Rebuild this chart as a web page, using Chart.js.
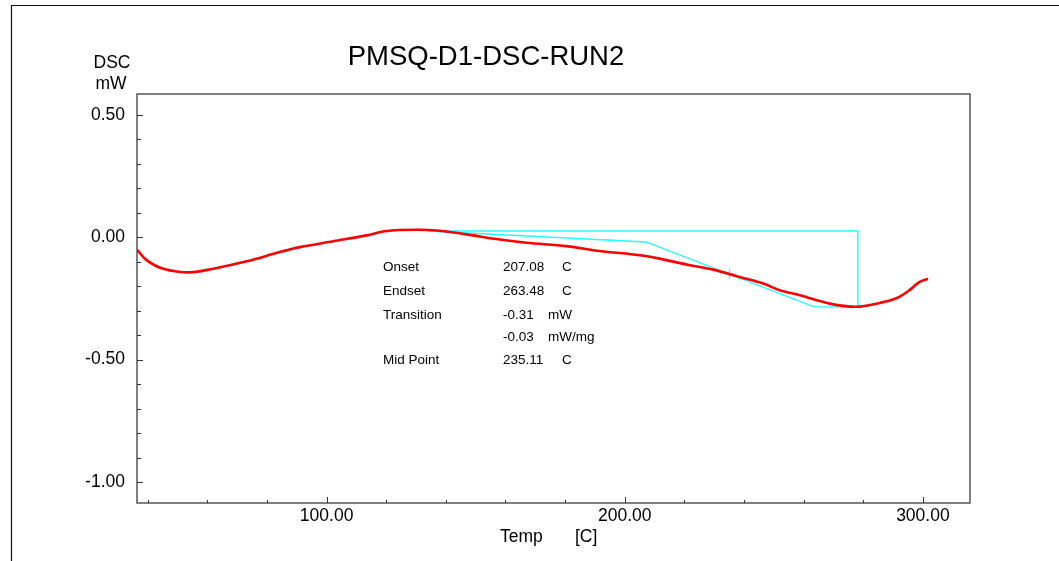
<!DOCTYPE HTML>
<html>
<head>
  <meta charset="UTF-8">
  <script src="https://cdn.jsdelivr.net/npm/chart.js"></script>
  <style>
    html, body {
      margin: 0;
      padding: 0;
      background: #fff;
    }
    #dscChart {
      display: block;
    }
  </style>
</head>
<body>
  <canvas id="dscChart" width="1059" height="561"></canvas>

<script>
  // DSC curve (Temp in C, heat flow in mW)
  const tempC = [36.4, 39.7, 45.2, 54.2, 62.0, 73.2, 84.3, 91.0, 102.2, 113.4, 120.1, 130.2, 138.0,
    146.9, 158.1, 167.0, 180.5, 191.6, 205.0, 211.7, 221.8, 229.6, 238.5, 246.4, 252.0, 258.7,
    268.7, 277.7, 285.5, 291.1, 295.5, 298.9, 301.7];
  const dscMw = [-0.050, -0.094, -0.128, -0.143, -0.128, -0.098, -0.060, -0.040, -0.016, 0.008, 0.026, 0.031, 0.027,
    0.012, -0.009, -0.022, -0.036, -0.056, -0.073, -0.087, -0.114, -0.132, -0.162, -0.189, -0.216, -0.237,
    -0.271, -0.284, -0.268, -0.249, -0.216, -0.182, -0.169];

  // analysis construction lines (cyan)
  const baseT = [134.0, 278.2, 278.2];
  const baseMw = [0.026, 0.026, -0.284];
  const tangentT = [134.0, 207.08, 263.48, 278.2];
  const tangentMw = [0.026, -0.019, -0.284, -0.284];
  const midT = [235.11];
  const midMw = [-0.148];

  // analysis results
  const resultLabels = ['Onset', 'Endset', 'Transition', '', 'Mid Point'];
  const resultValues = ['207.08', '263.48', '-0.31', '-0.03', '235.11'];
  const resultUnits = ['C', 'C', 'mW', 'mW/mg', 'C'];

  const chartTitle = 'PMSQ-D1-DSC-RUN2';
  const yTitle = ['DSC', 'mW'];
  const xTitle = ['Temp', '[C]'];

  const FONT = 'Arial, "Liberation Sans", sans-serif';
  const toXY = (xs, ys) => xs.map((x, i) => ({ x: x, y: ys[i] }));

  // frame, inward ticks and free text
  const decorations = {
    id: 'decorations',
    afterDraw(chart) {
      const ctx = chart.ctx;
      const a = chart.chartArea;
      const xs = chart.scales.x;
      const ys = chart.scales.y;
      ctx.save();

      // outer frame of the page
      ctx.strokeStyle = '#111';
      ctx.lineWidth = 1.2;
      ctx.beginPath();
      ctx.moveTo(11.5, 561);
      ctx.lineTo(11.5, 5.5);
      ctx.lineTo(1059, 5.5);
      ctx.stroke();

      // plot box
      ctx.strokeStyle = '#555';
      ctx.lineWidth = 1.5;
      ctx.strokeRect(a.left, a.top, a.right - a.left, a.bottom - a.top);

      // ticks pointing into the plot
      ctx.lineWidth = 1;
      ctx.strokeStyle = '#333';
      ctx.beginPath();
      xs.ticks.forEach(t => {
        const px = Math.round(xs.getPixelForValue(t.value)) + 0.5;
        const major = Math.round(t.value) % 100 === 0;
        ctx.moveTo(px, a.bottom);
        ctx.lineTo(px, a.bottom - (major ? 6 : 3));
      });
      ys.ticks.forEach(t => {
        const py = Math.round(ys.getPixelForValue(t.value)) + 0.5;
        const major = Math.round(t.value * 10) % 5 === 0;
        ctx.moveTo(a.left, py);
        ctx.lineTo(a.left + (major ? 6 : 4), py);
      });
      ctx.stroke();

      ctx.fillStyle = '#000';
      ctx.textBaseline = 'middle';

      // title
      ctx.font = '27.5px ' + FONT;
      ctx.textAlign = 'center';
      ctx.fillText(chartTitle, 486, 57);

      // axis titles
      ctx.font = '17.5px ' + FONT;
      ctx.fillText(yTitle[0], 112, 63);
      ctx.fillText(yTitle[1], 111, 84);
      ctx.textAlign = 'left';
      ctx.fillText(xTitle[0], 500, 537);
      ctx.fillText(xTitle[1], 575, 537);

      // results table
      ctx.font = '13.5px ' + FONT;
      const rows = [267, 291.5, 315, 337.5, 360];
      resultLabels.forEach((lab, i) => {
        ctx.fillText(lab, 383, rows[i]);
        ctx.fillText(resultValues[i], 503, rows[i]);
        ctx.fillText(resultUnits[i], resultUnits[i] === 'C' ? 562 : 548, rows[i]);
      });

      ctx.restore();
    }
  };

  const ctx = document.getElementById('dscChart').getContext('2d');
  const chart = new Chart(ctx, {
    type: 'line',
    data: {
      datasets: [{
        label: 'DSC',
        data: toXY(tempC, dscMw),
        borderColor: '#ff0000',
        borderWidth: 2.6,
        pointRadius: 0,
        tension: 0.35,
        fill: false
      }, {
        label: 'Baseline',
        data: toXY(baseT, baseMw),
        borderColor: '#22ffff',
        borderWidth: 1.5,
        pointRadius: 0,
        tension: 0,
        fill: false
      }, {
        label: 'Tangent',
        data: toXY(tangentT, tangentMw),
        borderColor: '#22ffff',
        borderWidth: 1.3,
        pointRadius: 0,
        tension: 0,
        fill: false
      }, {
        label: 'Mid Point',
        data: toXY(midT, midMw),
        borderColor: '#22ffff',
        borderWidth: 1.3,
        showLine: false,
        pointStyle: 'cross',
        pointRadius: 5
      }]
    },
    options: {
      responsive: false,
      animation: false,
      layout: {
        padding: { left: 0, top: 94, right: 89, bottom: 0 }
      },
      plugins: {
        legend: { display: false },
        tooltip: { enabled: false },
        title: { display: false }
      },
      scales: {
        x: {
          type: 'linear',
          min: 36.4,
          max: 315.8,
          afterFit: s => { s.height = 58; },
          grid: { display: false, drawTicks: false },
          border: { display: false },
          ticks: {
            stepSize: 20,
            includeBounds: false,
            autoSkip: false,
            maxRotation: 0,
            padding: 3,
            color: '#000',
            font: { family: FONT, size: 17.5 },
            callback: v => (Math.round(v) % 100 === 0 ? v.toFixed(2) : '')
          }
        },
        y: {
          min: -1.086,
          max: 0.586,
          afterFit: s => { s.width = 137; },
          grid: { display: false, drawTicks: false },
          border: { display: false },
          ticks: {
            stepSize: 0.1,
            includeBounds: false,
            autoSkip: false,
            padding: 12,
            color: '#000',
            font: { family: FONT, size: 17.5 },
            callback: v => (Math.round(v * 10) % 5 === 0 ? v.toFixed(2) : '')
          }
        }
      }
    },
    plugins: [decorations]
  });
</script>
</body>
</html>
